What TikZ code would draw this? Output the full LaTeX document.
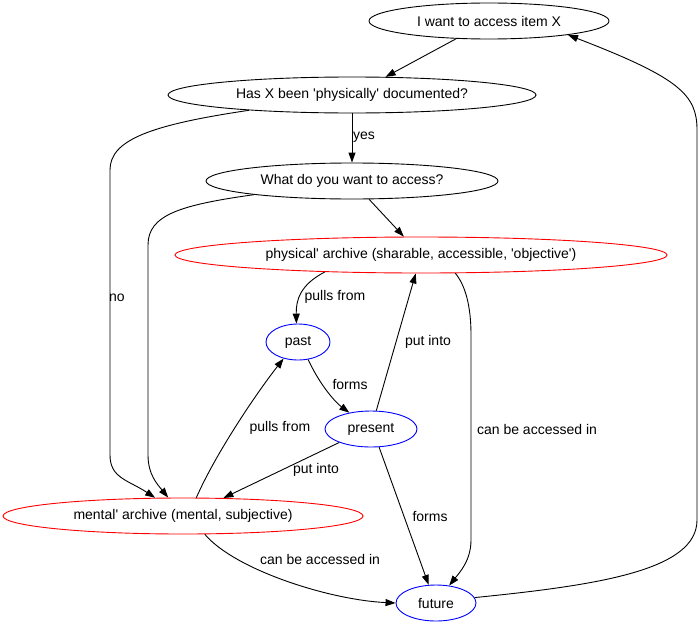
\documentclass[tikz,border=0pt]{standalone}
\usepackage{fontspec}
\setmainfont{Liberation Sans}
\usetikzlibrary{shapes.geometric,arrows.meta}
\newcommand{\sq}{\textquotesingle}
\begin{document}
\begin{tikzpicture}[x=1pt,y=-1pt,
  every node/.style={font=\fontsize{14}{16}\selectfont},
  ell/.style={ellipse,draw,inner sep=0pt,minimum height=36pt,line width=0.9pt,text=black},
  conn/.style={draw,line width=0.9pt,-{Triangle[length=10pt,width=7pt]}},
  lbl/.style={inner sep=0pt,text=black}]
\useasboundingbox (0,0) rectangle (700,626);
\node[ell, minimum width=240pt] (A) at (489,21) {I want to access item X};
\node[ell, minimum width=368pt] (B) at (352,95) {Has X been \sq physically\sq{} documented?};
\node[ell, minimum width=292pt] (C) at (352,181) {What do you want to access?};
\node[ell, draw=red, minimum width=492pt] (P) at (421,255) {physical\sq{} archive (sharable, accessible, \sq objective\sq)};
\node[ell, draw=blue, minimum width=64pt] (past) at (298,342) {past};
\node[ell, draw=blue, minimum width=92pt] (present) at (371,429) {present};
\node[ell, draw=red, minimum width=360pt] (M) at (183,516) {mental\sq{} archive (mental, subjective)};
\node[ell, draw=blue, minimum width=80pt] (future) at (436,603) {future};

\draw[conn] (A) -- (B);
\draw[conn] (B) -- (C) node[lbl] at (364,137) {yes};
\draw[conn] (B) .. controls (150,125) and (110,140) .. (110,170) -- (110,455) .. controls (110,478) and (128,480) .. (M)
  node[lbl] at (117,298) {no};
\draw[conn] (C) .. controls (180,205) and (148,215) .. (148,245) -- (148,455) .. controls (148,475) and (158,485) .. (M);
\draw[conn] (C) -- (P);
\draw[conn] (P.190) .. controls (300,285) and (296,300) .. (past.95)
  node[lbl] at (335,297) {pulls from};
\draw[conn] (past.300) .. controls (320,385) and (335,402) .. (present.143)
  node[lbl] at (350,384) {forms};
\draw[conn] (present) -- (P) node[lbl] at (428,342) {put into};
\draw[conn] (M.54) .. controls (215,455) and (255,395) .. (past.229)
  node[lbl] at (280,428) {pulls from};
\draw[conn] (present.203) -- (M.24) node[lbl] at (316,470) {put into};
\draw[conn] (present.294) -- (future.112) node[lbl] at (430,516) {forms};
\draw[conn] (P.332) .. controls (465,285) and (471,305) .. (471,335) -- (471,540) .. controls (471,560) and (460,572) .. (future.53)
  node[lbl] at (537,429) {can be accessed in};
\draw[conn] (M.320) .. controls (235,570) and (330,600) .. (future.west)
  node[lbl] at (320,559) {can be accessed in};
\draw[conn] (future.8) .. controls (600,585) and (697,570) .. (697,520) -- (697,130) .. controls (697,95) and (680,78) .. (A.350);
\end{tikzpicture}
\end{document}
